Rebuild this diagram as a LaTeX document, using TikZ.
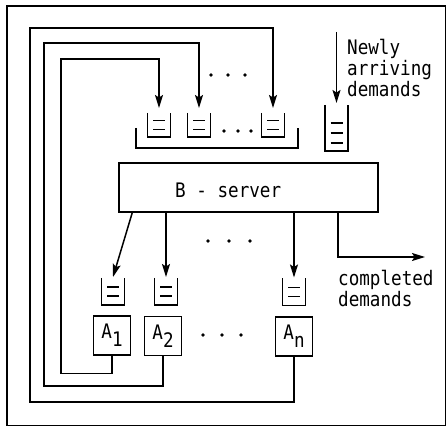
\documentclass[tikz,border=0pt]{standalone}
\usepackage{fontspec}
\newfontfamily\tw[FakeStretch=0.88]{DejaVu Sans Mono}
\usetikzlibrary{arrows.meta,calc}
\newcommand\asub[1]{\raisebox{-8pt}{#1}}
\begin{document}
\begin{tikzpicture}[x=1pt,y=-1pt,
  ln/.style={line width=1.5pt},
  arr/.style={ln, -{Stealth[length=13pt,width=8pt,inset=2.5pt]}},
  queue/.style={minimum width=23pt, minimum height=24pt, inner sep=0pt, outer sep=0pt},
  abox/.style={draw, ln, inner sep=0pt, minimum width=37pt, minimum height=39pt,
    font=\tw\fontsize{20}{22}\selectfont},
  lbl/.style={anchor=base west, inner sep=0pt, font=\tw\fontsize{20}{22}\selectfont}]

\useasboundingbox (0,0) rectangle (447,427);
\draw[line width=1.9pt] (7,6) rectangle (445.5,425.5);

% B-server
\node[draw, ln, minimum width=259pt, minimum height=49pt, inner sep=0pt] (bs) at (248.5,187.5) {};
\node[lbl] (bl) at (175,198) {B - server};

% queues in front of the B-server
\node[queue] (qa) at (159,125) {};
\node[queue] (qb) at (199,125) {};
\node[queue] (qc) at (273,125) {};
\node[queue, minimum height=46pt] (qs) at (336.5,128) {};
\node[inner sep=0pt, minimum width=162pt, minimum height=20pt] (grp) at (217,138) {};

% queues in front of the A-servers
\node[queue, minimum height=27pt] (qx) at (113,291.5) {};
\node[queue, minimum height=27pt] (qy) at (166,291.5) {};
\node[queue, minimum height=27pt] (qz) at (294,292) {};

% A-servers
\node[abox] (a1) at (112,335.5) {A\asub{1}};
\node[abox] (a2) at (163,336) {A\asub{2}};
\node[abox] (an) at (294,336.5) {A\asub{n}};

% open-top containers
\foreach \q in {qa,qb,qc,qs,qx,qy,qz,grp}
  \draw[ln] (\q.north west) |- (\q.south east) -- (\q.north east);
\foreach \q in {qa,qb,qc,qx,qy,qz}
  \draw[line width=1.1pt] ($(\q.center)+(-6,-4.5)$) -- ++(12,0)
                          ($(\q.center)+(-6,4.5)$) -- ++(12,0);
\foreach \d in {-5,5,15}
  \draw[line width=1.1pt] ($(qs.center)+(-6,\d)$) -- ++(12,0);

% feedback from the A-servers
\draw[arr] (a1.south) -- ++(0,18) -| (61,59) -| ([yshift=5pt]qa.north);
\draw[arr] (a2.south) -- ++(0,30) -| (44,43) -| ([yshift=5pt]qb.north);
\draw[arr] (an.south) -- ++(0,45) -| (30,28) -| ([yshift=5pt]qc.north);

% new arrivals
\coordinate (src) at (336.5,32);
\draw[arr] (src) -- ([yshift=2pt]qs.north);
\node[lbl] (n1) at (347,55) {Newly};
\node[lbl] (n2) at (347,76) {arriving};
\node[lbl] (n3) at (347,97) {demands};

% B-server outputs
\draw[arr] ($(bs.south west)+(14,0)$) -- ([yshift=1pt]qx.north);
\draw[arr] (bs.south -| qy.north) -- ([yshift=1pt]qy.north);
\draw[arr] (bs.south -| qz.north) -- ([yshift=1pt]qz.north);
\coordinate (out) at (425,257);
\draw[arr] ($(bs.south west)+(219.5,0)$) |- (out);
\node[lbl] (c1) at (338,286) {completed};
\node[lbl] (c2) at (338,307) {demands};

% ellipses
\foreach \x in {211,228,245} \fill (\x,75) circle (1.8);
\foreach \x in {224,238,251} \fill (\x,131) circle (1.8);
\foreach \x in {208,229,250} \fill (\x,241) circle (1.8);
\foreach \x in {203,222,241} \fill (\x,335) circle (1.8);
\end{tikzpicture}
\end{document}
